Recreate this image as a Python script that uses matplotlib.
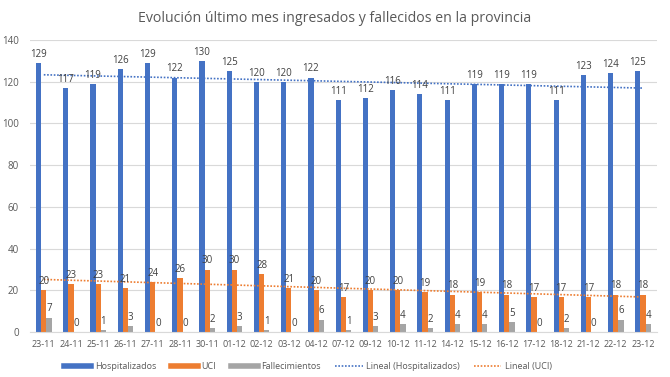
import numpy as np
import matplotlib.pyplot as plt
from matplotlib.lines import Line2D

plt.rcParams['font.family'] = ['Open Sans', 'DejaVu Sans']

fechas = ['23-11', '24-11', '25-11', '26-11', '27-11', '28-11', '30-11', '01-12',
          '02-12', '03-12', '04-12', '07-12', '09-12', '10-12', '11-12', '14-12',
          '15-12', '16-12', '17-12', '18-12', '21-12', '22-12', '23-12']
hospitalizados = [129, 117, 119, 126, 129, 122, 130, 125, 120, 120, 122, 111,
                  112, 116, 114, 111, 119, 119, 119, 111, 123, 124, 125]
uci = [20, 23, 23, 21, 24, 26, 30, 30, 28, 21, 20, 17,
       20, 20, 19, 18, 19, 18, 17, 17, 17, 18, 18]
fallecimientos = [7, 0, 1, 3, 0, 0, 2, 3, 1, 0, 6, 1,
                  3, 4, 2, 4, 4, 5, 0, 2, 0, 6, 4]

azul = '#4472C4'
naranja = '#ED7D31'
gris = '#A5A5A5'
texto = '#595959'

fig = plt.figure(figsize=(6.7, 3.77), dpi=100)
ax = fig.add_axes([0.045, 0.119, 0.935, 0.775])

x = np.arange(len(fechas))
w = 0.19
series = [(hospitalizados, azul, -w), (uci, naranja, 0), (fallecimientos, gris, w)]
for vals, col, off in series:
    ax.bar(x + off, vals, width=w, color=col, zorder=2)
    for xi, v in zip(x, vals):
        ax.text(xi + off, v + 1.5, str(v), ha='center', va='bottom',
                fontsize=7, color='#404040', zorder=4)

# lineas de tendencia
for vals, col in [(hospitalizados, azul), (uci, naranja)]:
    a, b = np.polyfit(x, vals, 1)
    ax.plot(x, a * x + b, color=col, linestyle=(0, (1, 1)), lw=1.2, zorder=3)

ax.set_xlim(-0.5, len(fechas) - 0.5)
ax.set_ylim(0, 140)
ax.set_yticks(range(0, 141, 20))
ax.set_xticks(x)
ax.set_xticklabels(fechas)
ax.tick_params(axis='x', labelsize=6.5, colors=texto, length=0, pad=6)
ax.tick_params(axis='y', labelsize=7, colors=texto, length=0, pad=8)
ax.grid(axis='y', color='#D9D9D9', lw=0.8, zorder=0)
for s in ['top', 'right', 'left']:
    ax.spines[s].set_visible(False)
ax.spines['bottom'].set_color('#D9D9D9')

fig.suptitle('Evolución último mes ingresados y fallecidos en la provincia',
             y=0.972, fontsize=10.2, color=texto)

handles = [
    Line2D([], [], color=azul, lw=4),
    Line2D([], [], color=naranja, lw=4),
    Line2D([], [], color=gris, lw=4),
    Line2D([], [], color=azul, lw=1.2, linestyle=(0, (1, 1))),
    Line2D([], [], color=naranja, lw=1.2, linestyle=(0, (1, 1))),
]
labels = ['Hospitalizados', 'UCI', 'Fallecimientos', 'Lineal (Hospitalizados)', 'Lineal (UCI)']
fig.legend(handles, labels, loc='center', bbox_to_anchor=(0.46, 0.027), ncol=5,
           frameon=False, fontsize=6.5, handlelength=3.0, handletextpad=0.4,
           columnspacing=1.6, labelcolor=texto)

fig.savefig('out.png', dpi=100)
